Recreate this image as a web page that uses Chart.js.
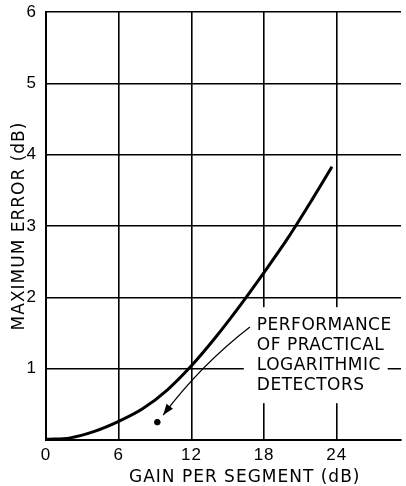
<!DOCTYPE html>
<html>
<head>
<meta charset="utf-8">
<script src="https://cdn.jsdelivr.net/npm/chart.js@4.4.1/dist/chart.umd.min.js"></script>
<style>
  body { margin: 0; background: #fff; }
  canvas { display: block; }
</style>
</head>
<body>
<canvas id="chart" width="406" height="486"></canvas>
<script>
// curve
const gain = [0, 2, 4, 6, 8, 10, 12, 14, 16, 18, 20, 22, 23.6];
const maxError = [0.01, 0.03, 0.12, 0.26, 0.44, 0.7, 1.04, 1.44, 1.88, 2.35, 2.84, 3.38, 3.83];

// practical detector point
const practicalGain = [9.19];
const practicalError = [0.25];

const xTicks = [0, 6, 12, 18, 24];
const yTicks = [0, 1, 2, 3, 4, 5, 6];

const xTitle = 'GAIN PER SEGMENT (dB)';
const xTitleCenter = 16.4;             // the title sits right of the plot centre

const noteLines = ['PERFORMANCE', 'OF PRACTICAL', 'LOGARITHMIC', 'DETECTORS'];
const notePos = [17.4, 1.61];          // left edge / first line, data units
const arrowStart = [16.83, 1.585];
const arrowCtrl = [12.76, 1.05];
const arrowTip = [9.67, 0.35];

const FONT = 'DejaVu Sans, sans-serif';
const TICKFONT = 'Liberation Sans, Arial, sans-serif';

const spacingPlugin = {
  id: 'spacing',
  beforeDraw(chart) { chart.ctx.letterSpacing = '1px'; }
};

const notePlugin = {
  id: 'note',
  beforeDatasetsDraw(chart) {
    const { ctx, scales: { x, y } } = chart;
    const lx = x.getPixelForValue(notePos[0]);
    const ly = y.getPixelForValue(notePos[1]);
    const lh = 20;
    ctx.save();
    ctx.letterSpacing = '0.5px';
    ctx.font = '17px ' + FONT;
    const w = Math.max(...noteLines.map(s => ctx.measureText(s).width));
    ctx.fillStyle = '#fff';
    ctx.fillRect(lx - 13, ly - 18, w + 9, lh * noteLines.length + 16);
    ctx.fillStyle = '#000';
    ctx.textBaseline = 'middle';
    noteLines.forEach((s, i) => ctx.fillText(s, lx, ly + i * lh));

    // arrow
    const p0 = [x.getPixelForValue(arrowStart[0]), y.getPixelForValue(arrowStart[1])];
    const c = [x.getPixelForValue(arrowCtrl[0]), y.getPixelForValue(arrowCtrl[1])];
    const p2 = [x.getPixelForValue(arrowTip[0]), y.getPixelForValue(arrowTip[1])];
    ctx.strokeStyle = '#000';
    ctx.lineWidth = 1.2;
    ctx.beginPath();
    ctx.moveTo(p0[0], p0[1]);
    ctx.quadraticCurveTo(c[0], c[1], p2[0], p2[1]);
    ctx.stroke();
    const ang = Math.atan2(p2[1] - c[1], p2[0] - c[0]);
    ctx.beginPath();
    ctx.moveTo(p2[0], p2[1]);
    ctx.lineTo(p2[0] - 11 * Math.cos(ang) + 4 * Math.sin(ang), p2[1] - 11 * Math.sin(ang) - 4 * Math.cos(ang));
    ctx.lineTo(p2[0] - 11 * Math.cos(ang) - 4 * Math.sin(ang), p2[1] - 11 * Math.sin(ang) + 4 * Math.cos(ang));
    ctx.closePath();
    ctx.fillStyle = '#000';
    ctx.fill();

    // x axis title
    ctx.letterSpacing = '1px';
    ctx.textAlign = 'center';
    ctx.fillText(xTitle, x.getPixelForValue(xTitleCenter), 478);
    ctx.restore();
  }
};

new Chart(document.getElementById('chart'), {
  type: 'scatter',
  data: {
    datasets: [{
      data: gain.map((g, i) => ({ x: g, y: maxError[i] })),
      showLine: true,
      borderColor: '#000',
      borderWidth: 3,
      pointRadius: 0,
      cubicInterpolationMode: 'monotone'
    }, {
      data: practicalGain.map((g, i) => ({ x: g, y: practicalError[i] })),
      pointRadius: 2.8,
      backgroundColor: '#000',
      borderColor: '#000'
    }]
  },
  options: {
    responsive: false,
    animation: false,
    layout: { padding: { top: 12, right: 0, left: 0, bottom: 0 } },
    plugins: { legend: { display: false }, tooltip: { enabled: false } },
    scales: {
      x: {
        type: 'linear',
        min: 0,
        max: 29.3,
        afterBuildTicks: s => { s.ticks = xTicks.map(v => ({ value: v })); },
        afterFit: s => { s.height = 46; s.paddingRight = 0; s.paddingLeft = 0; },
        grid: { color: '#000', lineWidth: 1.6, drawTicks: false },
        border: { color: '#000', width: 2 },
        ticks: { color: '#000', font: { family: TICKFONT, size: 17 }, padding: 5, maxRotation: 0 },
        title: { display: false }
      },
      y: {
        min: 0,
        max: 6,
        afterBuildTicks: s => { s.ticks = yTicks.map(v => ({ value: v })); },
        afterFit: s => { s.width = 46; s.paddingTop = 0; s.paddingBottom = 0; },
        grid: { color: '#000', lineWidth: 1.6, drawTicks: false },
        border: { color: '#000', width: 2 },
        ticks: { color: '#000', font: { family: TICKFONT, size: 17 }, padding: 9, callback: v => v === 0 ? '' : v },
        title: { display: true, text: 'MAXIMUM ERROR (dB)', color: '#000', font: { family: FONT, size: 17 }, padding: { top: 9, bottom: 0 } }
      }
    }
  },
  plugins: [spacingPlugin, notePlugin]
});
</script>
</body>
</html>
